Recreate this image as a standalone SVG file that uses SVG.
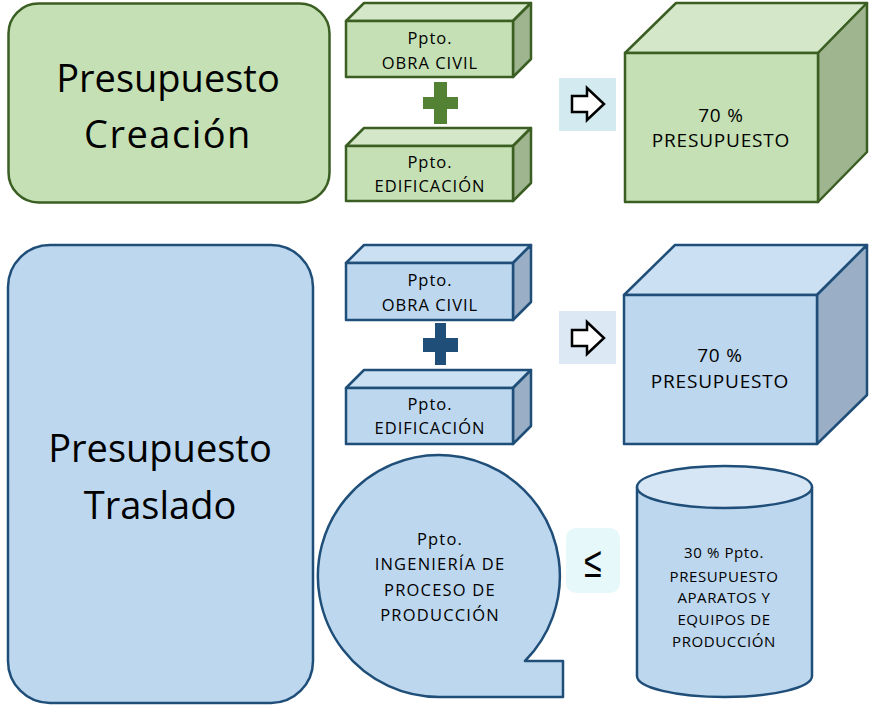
<svg xmlns="http://www.w3.org/2000/svg" width="870" height="706" viewBox="0 0 870 706">
<defs>
<style>
text{font-family:"Open Sans","DejaVu Sans",sans-serif;fill:#000;text-anchor:middle}
.g{stroke:#3b5e23;stroke-width:2.5;stroke-linejoin:round}
.b{stroke:#1f4e79;stroke-width:2.5;stroke-linejoin:round}
.gf{fill:#c5e0b4}.gt{fill:#d4e7c8}.gs{fill:#9fb590}
.bf{fill:#bdd7ee}.bt{fill:#cce0f3}.bs{fill:#9aafc5}
.big{font-size:38px}
.lbl{font-size:16.5px;letter-spacing:1px}
.bub{font-size:16.5px;letter-spacing:1.2px}
.cyl{font-size:15px;letter-spacing:0.6px}
.cube{font-size:19px;letter-spacing:0.8px}
.arrow{fill:#fff;stroke:#000;stroke-width:2.5;stroke-linejoin:miter}
</style>
</defs>

<g id="creacion">
<rect class="g gf" x="8.5" y="3.5" width="321" height="199" rx="30"/>
<text class="big" x="168" y="92">Presupuesto</text>
<text class="big" x="168" y="148" style="letter-spacing:1.5px">Creación</text>
</g>

<g id="g-obra">
<path class="g gt" d="M346,21 L364,3 H531 L513,21 Z"/>
<path class="g gs" d="M513,21 L531,3 V59 L513,77 Z"/>
<rect class="g gf" x="346" y="21" width="167" height="56"/>
<text class="lbl" x="430" y="44">Ppto.</text>
<text class="lbl" x="430" y="69">OBRA CIVIL</text>
</g>

<g id="g-plus">
<path fill="#548235" d="M434,82 H447 V97 H458 V109 H447 V124 H434 V109 H423 V97 H434 Z"/>
</g>

<g id="g-edif">
<path class="g gt" d="M346,146 L364,128 H531 L513,146 Z"/>
<path class="g gs" d="M513,146 L531,128 V183 L513,201 Z"/>
<rect class="g gf" x="346" y="146" width="167" height="55"/>
<text class="lbl" x="430" y="168">Ppto.</text>
<text class="lbl" x="430" y="192">EDIFICACIÓN</text>
</g>

<g id="g-arrow">
<rect x="559" y="78" width="57" height="53" fill="#d2eaf0"/>
<path class="arrow" d="M572,96 H587 V88 L604,104 L587,120 V112 H572 Z"/>
</g>

<g id="g-cube">
<path class="g gt" d="M625,53 L676,3 H867 L818,53 Z"/>
<path class="g gs" d="M818,53 L867,3 V152 L818,202 Z"/>
<rect class="g gf" x="625" y="53" width="193" height="149"/>
<text class="cube" x="721" y="122">70 %</text>
<text class="cube" x="721" y="147">PRESUPUESTO</text>
</g>

<g id="traslado">
<rect class="b bf" x="8" y="245" width="305" height="458" rx="42"/>
<text class="big" x="160" y="462">Presupuesto</text>
<text class="big" x="160" y="519">Traslado</text>
</g>

<g id="b-obra">
<path class="b bt" d="M346,263 L364,245 H531 L513,263 Z"/>
<path class="b bs" d="M513,263 L531,245 V302 L513,320 Z"/>
<rect class="b bf" x="346" y="263" width="167" height="57"/>
<text class="lbl" x="430" y="286">Ppto.</text>
<text class="lbl" x="430" y="311">OBRA CIVIL</text>
</g>

<g id="b-plus">
<path fill="#1f4e79" d="M435,323 H446 V338 H458 V352 H446 V365 H435 V352 H423 V338 H435 Z"/>
</g>

<g id="b-edif">
<path class="b bt" d="M346,388 L364,370 H531 L513,388 Z"/>
<path class="b bs" d="M513,388 L531,370 V426 L513,444 Z"/>
<rect class="b bf" x="346" y="388" width="167" height="56"/>
<text class="lbl" x="430" y="410">Ppto.</text>
<text class="lbl" x="430" y="434">EDIFICACIÓN</text>
</g>

<g id="b-arrow">
<rect x="559" y="311" width="57" height="53" fill="#dde8f5"/>
<path class="arrow" d="M572,330 H587 V322 L604,338 L587,354 V346 H572 Z"/>
</g>

<g id="b-cube">
<path class="b bt" d="M624,295 L675,245 H867 L817,295 Z"/>
<path class="b bs" d="M817,295 L867,245 V395 L817,444 Z"/>
<rect class="b bf" x="624" y="295" width="193" height="149"/>
<text class="cube" x="720" y="362">70 %</text>
<text class="cube" x="720" y="388">PRESUPUESTO</text>
</g>

<g id="ingenieria">
<path class="b bf" d="M439,697 A121,121 0 1 1 525,661 L563,661 L563,697 Z"/>
<text class="bub" x="440" y="545">Ppto.</text>
<text class="bub" x="440" y="570">INGENIERÍA DE</text>
<text class="bub" x="440" y="596">PROCESO DE</text>
<text class="bub" x="440" y="621">PRODUCCIÓN</text>
</g>

<g id="leq">
<rect x="566" y="528" width="54" height="65" rx="10" fill="#e6f8fa"/>
<text x="0" y="0" transform="translate(593,577) scale(1,1.35)" style="font-family:'Liberation Sans',sans-serif;font-size:32px">≤</text>
</g>

<g id="equipos">
<path class="b bf" d="M637,487 V676 A87.5,21 0 0 0 812,676 V487"/>
<ellipse class="b" cx="724.5" cy="487" rx="87.5" ry="21" fill="#d6e6f5"/>
<text class="cyl" x="724" y="558">30 % Ppto.</text>
<text class="cyl" x="724" y="582">PRESUPUESTO</text>
<text class="cyl" x="724" y="603">APARATOS Y</text>
<text class="cyl" x="724" y="625">EQUIPOS DE</text>
<text class="cyl" x="724" y="647">PRODUCCIÓN</text>
</g>

<g id="connectors"></g>
</svg>
